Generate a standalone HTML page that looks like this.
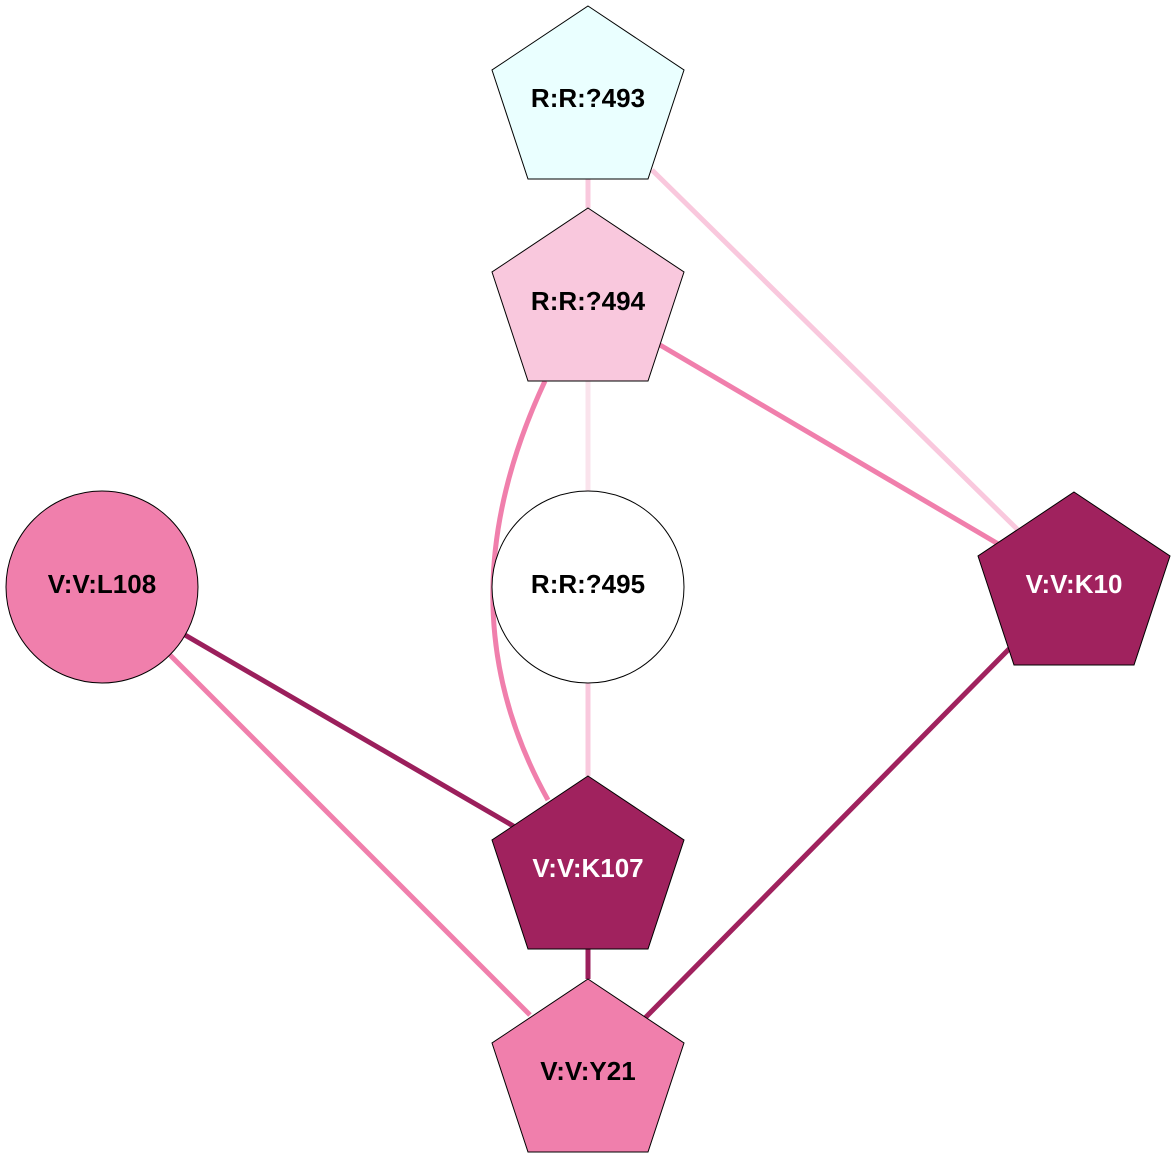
<!DOCTYPE html>
<html><head><meta charset="utf-8"><style>
html,body{margin:0;padding:0;background:#fff;}
svg{display:block;}
text{font-family:"Liberation Sans",Arial,sans-serif;font-weight:bold;font-size:26px;text-anchor:middle;dominant-baseline:central;}
</style></head><body>
<svg width="1176" height="1176" viewBox="0 0 1176 1176" xmlns="http://www.w3.org/2000/svg">
<g fill="none" stroke-width="5">
<line x1="588" y1="179" x2="588" y2="208" stroke="#f9c8dd"/>
<line x1="652" y1="170" x2="1018" y2="530" stroke="#f9c8dd"/>
<line x1="660" y1="345" x2="1000" y2="545" stroke="#f07fac"/>
<path d="M545,381 C480,520 470,660 548,800" stroke="#f07fac"/>
<line x1="588" y1="381" x2="588" y2="492" stroke="#fae3ec"/>
<line x1="588" y1="683" x2="588" y2="776" stroke="#f9c8dd"/>
<line x1="185" y1="635" x2="515" y2="827" stroke="#9b1f5c"/>
<line x1="170" y1="655" x2="530" y2="1015" stroke="#f07fac"/>
<line x1="588" y1="949" x2="588" y2="979" stroke="#9b1f5c"/>
<line x1="1010" y1="648" x2="645" y2="1018" stroke="#a0225e"/>
</g>
<g stroke="#000" stroke-width="1">
<polygon points="588,6 684,70 648,179 528,179 492,70" fill="#eaffff"/>
<polygon points="588,208 684,272 648,381 528,381 492,272" fill="#f9c8dd"/>
<circle cx="588" cy="587" r="96" fill="#fff"/>
<circle cx="102" cy="587" r="96" fill="#f07fac"/>
<polygon points="1074,492 1170,556 1134,665 1014,665 978,556" fill="#a0225e"/>
<polygon points="588,776 684,840 648,949 528,949 492,840" fill="#a0225e"/>
<polygon points="588,979 684,1043 648,1152 528,1152 492,1043" fill="#f07fac"/>
</g>
<text x="588" y="98">R:R:?493</text>
<text x="588" y="301">R:R:?494</text>
<text x="588" y="584">R:R:?495</text>
<text x="102" y="584">V:V:L108</text>
<text x="1074" y="584" fill="#fff">V:V:K10</text>
<text x="588" y="868" fill="#fff">V:V:K107</text>
<text x="588" y="1071">V:V:Y21</text>
</svg>
</body></html>
